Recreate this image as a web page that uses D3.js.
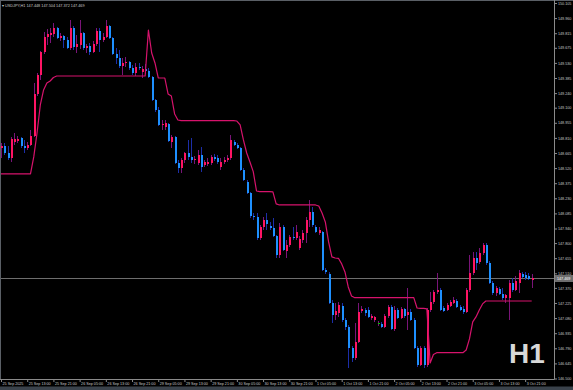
<!DOCTYPE html>
<html>
<head>
<meta charset="utf-8"/>
<title>USDJPY,H1</title>
<script src="https://d3js.org/d3.v7.min.js"></script>
<style>
    body { margin: 0; background: #000; }
    svg { display: block; }
    .axis text { font-family: "Liberation Sans", Arial, sans-serif; font-size: 3.7px; fill: #c8c8c8; }
    .axis line { stroke: #8a8a8a; }
    .header { font-family: "Liberation Sans", Arial, sans-serif; font-size: 3.8px; fill: #c8c8c8; }
    .tf { font-family: "Liberation Sans", Arial, sans-serif; font-size: 28px; font-weight: bold; fill: #d8d8d8; }
</style>
</head>
<body>
<div id="chart"></div>
<script>
// USDJPY H1, 25 Sep 05:00 .. 3 Oct 23:00 (163 bars)
var opens = [
148.713,148.732,148.665,148.617,148.771,148.780,148.809,148.732,148.713,148.742,
148.828,149.232,149.414,149.635,149.779,149.798,149.808,149.865,149.769,149.788,
149.750,149.673,149.865,149.683,149.702,149.817,149.673,149.692,149.635,149.712,
149.836,149.750,149.779,149.884,149.769,149.616,149.577,149.500,149.529,149.539,
149.481,149.433,149.491,149.443,149.472,149.452,149.395,149.174,149.078,148.934,
148.915,148.944,148.771,148.819,148.569,148.521,148.598,148.665,148.627,148.598,
148.569,148.646,148.550,148.560,148.569,148.627,148.617,148.531,148.579,148.598,
148.617,148.771,148.742,148.713,148.502,148.387,148.281,148.060,148.051,147.849,
147.955,148.022,147.964,147.945,147.868,147.686,147.955,147.724,147.782,147.859,
147.849,147.753,147.830,147.897,148.022,148.099,147.955,147.897,147.907,147.542,
147.504,147.225,147.110,147.129,147.196,147.062,146.995,146.793,146.697,146.851,
147.148,147.158,147.158,147.081,147.062,147.033,147.024,146.995,147.100,147.187,
146.976,147.158,147.081,147.168,147.110,147.139,147.062,146.793,146.630,146.793,
146.630,147.158,147.235,147.331,147.350,147.177,147.158,147.196,147.225,147.244,
147.187,147.168,147.139,147.350,147.513,147.657,147.619,147.705,147.782,147.609,
147.417,147.321,147.360,147.312,147.273,147.273,147.417,147.350,147.417,147.504,
147.494,147.484,147.448];

var highs = [
148.761,148.761,148.732,148.819,148.857,148.828,148.819,148.790,148.771,148.886,
149.337,149.433,149.644,149.827,149.856,149.865,149.913,149.875,149.817,149.798,
149.779,149.942,149.884,149.798,149.942,149.827,149.712,149.721,149.740,149.865,
149.865,149.817,149.942,149.894,149.779,149.673,149.654,149.577,149.587,149.548,
149.510,149.529,149.529,149.500,149.520,149.481,149.404,149.184,149.107,148.982,
148.982,148.953,148.838,148.828,148.598,148.617,148.675,148.790,148.809,148.636,
148.694,148.723,148.598,148.617,148.646,148.656,148.646,148.617,148.627,148.646,
148.838,148.790,148.761,148.723,148.521,148.406,148.291,148.089,148.089,147.974,
148.051,148.089,148.003,148.041,147.878,147.993,147.974,147.830,147.878,147.955,
147.974,147.868,147.926,148.051,148.214,148.147,147.974,147.955,147.916,147.561,
147.523,147.254,147.225,147.235,147.225,147.081,147.014,146.812,147.033,147.225,
147.196,147.177,147.187,147.120,147.100,147.052,147.043,147.120,147.206,147.206,
147.196,147.177,147.187,147.177,147.369,147.168,147.081,146.812,146.812,146.812,
147.177,147.331,147.350,147.513,147.369,147.196,147.225,147.254,147.283,147.264,
147.206,147.196,147.369,147.686,147.715,147.715,147.753,147.801,147.801,147.628,
147.436,147.388,147.379,147.369,147.312,147.446,147.465,147.484,147.542,147.523,
147.523,147.513,147.504];

var lows = [
148.617,148.646,148.598,148.579,148.742,148.761,148.713,148.665,148.694,148.732,
148.819,149.212,149.366,149.616,149.702,149.721,149.779,149.760,149.740,149.673,
149.664,149.654,149.654,149.625,149.664,149.654,149.625,149.606,149.625,149.692,
149.635,149.731,149.769,149.760,149.606,149.520,149.481,149.414,149.491,149.462,
149.414,149.404,149.462,149.385,149.424,149.385,149.164,149.059,148.924,148.886,
148.886,148.771,148.713,148.560,148.473,148.473,148.569,148.598,148.569,148.560,
148.550,148.483,148.531,148.540,148.550,148.588,148.560,148.502,148.560,148.579,
148.598,148.732,148.704,148.492,148.396,148.272,148.041,148.022,147.830,147.830,
147.926,147.926,147.926,147.859,147.657,147.657,147.724,147.657,147.763,147.830,
147.830,147.734,147.801,147.801,147.955,147.955,147.897,147.878,147.532,147.504,
147.216,147.033,147.062,147.091,147.043,146.966,146.601,146.659,146.678,146.841,
147.129,147.100,147.081,147.062,147.043,147.004,146.985,146.985,147.081,146.966,
146.956,147.072,147.072,147.081,146.966,147.052,146.784,146.611,146.620,146.601,
146.611,147.139,147.216,147.312,147.148,147.139,147.148,147.187,147.216,147.177,
147.148,147.120,147.129,147.331,147.494,147.542,147.600,147.686,147.590,147.408,
147.302,147.292,147.302,147.254,147.225,147.062,147.331,147.340,147.321,147.465,
147.446,147.446,147.372];

var closes = [
148.732,148.665,148.617,148.800,148.800,148.800,148.732,148.713,148.742,148.828,
149.232,149.414,149.635,149.779,149.808,149.817,149.865,149.769,149.788,149.750,
149.673,149.865,149.683,149.712,149.817,149.673,149.692,149.635,149.712,149.836,
149.750,149.779,149.884,149.769,149.616,149.577,149.500,149.529,149.539,149.481,
149.433,149.491,149.481,149.472,149.452,149.395,149.174,149.078,148.934,148.944,
148.953,148.780,148.819,148.569,148.521,148.598,148.665,148.627,148.598,148.608,
148.646,148.531,148.579,148.579,148.627,148.608,148.579,148.579,148.598,148.617,
148.790,148.742,148.713,148.502,148.406,148.281,148.060,148.051,147.849,147.955,
148.022,147.984,147.945,147.868,147.686,147.955,147.734,147.782,147.859,147.849,
147.907,147.840,147.897,148.022,148.099,147.974,147.907,147.926,147.542,147.523,
147.225,147.110,147.148,147.206,147.062,146.995,146.793,146.697,146.851,147.139,
147.168,147.129,147.091,147.100,147.091,147.033,146.995,147.100,147.187,146.976,
147.158,147.081,147.168,147.100,147.139,147.062,146.793,146.630,146.793,146.630,
147.158,147.235,147.331,147.350,147.158,147.148,147.206,147.235,147.254,147.187,
147.158,147.139,147.350,147.513,147.657,147.609,147.705,147.782,147.609,147.417,
147.321,147.369,147.312,147.273,147.302,147.417,147.350,147.436,147.513,147.475,
147.465,147.456,147.469];

// trailing stop indicator line, one value per bar
var stopLine = [
148.464,148.464,148.464,148.464,148.464,148.464,148.464,148.464,148.464,148.464,
148.627,148.857,149.126,149.270,149.337,149.356,149.390,149.404,149.404,149.404,
149.404,149.404,149.404,149.404,149.404,149.404,149.404,149.404,149.404,149.404,
149.404,149.404,149.404,149.404,149.404,149.404,149.404,149.404,149.404,149.404,
149.404,149.404,149.404,149.404,149.404,149.846,149.625,149.529,149.385,149.385,
149.385,149.232,149.212,149.040,148.982,148.975,148.975,148.975,148.975,148.975,
148.975,148.975,148.975,148.975,148.975,148.975,148.975,148.975,148.975,148.975,
148.975,148.975,148.972,148.934,148.790,148.665,148.579,148.486,148.300,148.294,
148.294,148.294,148.294,148.291,148.176,148.166,148.166,148.166,148.166,148.166,
148.166,148.166,148.166,148.166,148.166,148.166,148.166,148.156,148.089,148.003,
147.811,147.667,147.657,147.654,147.600,147.523,147.379,147.292,147.276,147.276,
147.276,147.276,147.276,147.276,147.276,147.276,147.276,147.276,147.276,147.276,
147.276,147.276,147.276,147.276,147.276,147.276,147.276,147.177,147.174,147.174,
147.168,146.649,146.731,146.748,146.748,146.748,146.748,146.748,146.748,146.748,
146.748,146.748,146.774,146.880,147.043,147.091,147.158,147.216,147.244,147.244,
147.244,147.244,147.244,147.244,147.244,147.244,147.244,147.244,147.244,147.244,
147.244,147.244,147.244];

var timeLabels = ["25 Sep 2025","25 Sep 13:00","25 Sep 21:00","26 Sep 05:00","26 Sep 13:00",
    "26 Sep 21:00","29 Sep 05:00","29 Sep 13:00","29 Sep 21:00","30 Sep 05:00","30 Sep 13:00",
    "30 Sep 21:00","1 Oct 05:00","1 Oct 13:00","1 Oct 21:00","2 Oct 05:00","2 Oct 13:00",
    "2 Oct 21:00","3 Oct 05:00","3 Oct 13:00","3 Oct 21:00"];
var timeLabelBars = [0,8,16,24,32,40,48,56,64,72,80,88,96,104,112,120,128,136,144,152,160];

var priceTicks = [150.105,149.960,149.815,149.675,149.530,149.385,149.240,149.100,148.955,
    148.810,148.665,148.520,148.375,148.230,148.085,147.940,147.800,147.655,147.510,147.370,
    147.225,147.080,146.935,146.790,146.645,146.500];

var symbol = "USDJPY,H1";
var timeframe = "H1";

var width = 573, height = 390,
    plotRight = 554.5, plotBottom = 379.5;

var upBody = "#ff1464", downBody = "#1e90ff",
    upWick = "#7a1478", downWick = "#1c2ea8",
    dojiColor = "#00c800", stopColor = "#d6136c";

var svg = d3.select("#chart").append("svg")
    .attr("width", width)
    .attr("height", height);

svg.append("rect")
    .attr("width", width)
    .attr("height", height)
    .attr("fill", "#000");

var x = d3.scaleLinear()
    .domain([0, opens.length - 1])
    .range([1, 531.7]);

var y = d3.scaleLinear()
    .domain([146.500, 150.105])
    .range([378.5, 3]);

var bars = opens.map(function(o, i) {
    return {i: i, o: o, h: highs[i], l: lows[i], c: closes[i], s: stopLine[i]};
});
var last = bars[bars.length - 1];

// window border + bottom strip
svg.append("line").attr("x1", 0).attr("x2", width).attr("y1", 0.5).attr("y2", 0.5)
    .attr("stroke", "#5a5f66");
svg.append("line").attr("x1", 0.5).attr("x2", 0.5).attr("y1", 0).attr("y2", plotBottom)
    .attr("stroke", "#5a5f66");
svg.append("rect").attr("x", 0).attr("y", 386.5).attr("width", width).attr("height", 4)
    .attr("fill", "#3a424b");

// current price line
svg.append("line")
    .attr("x1", 1).attr("x2", plotRight)
    .attr("y1", Math.round(y(last.c)) + 0.5).attr("y2", Math.round(y(last.c)) + 0.5)
    .attr("stroke", "#6e6e6e")
    .attr("stroke-width", 1);

var candles = svg.append("g").attr("shape-rendering", "crispEdges");

candles.selectAll(".wick")
    .data(bars)
    .enter()
    .append("line")
    .attr("class", "wick")
    .attr("x1", function(d){ return Math.round(x(d.i)) + 0.5; })
    .attr("x2", function(d){ return Math.round(x(d.i)) + 0.5; })
    .attr("y1", function(d){ return y(d.h); })
    .attr("y2", function(d){ return y(d.l); })
    .attr("stroke", function(d){ return d.c >= d.o ? upWick : downWick; });

candles.selectAll(".body")
    .data(bars)
    .enter()
    .append("rect")
    .attr("class", "body")
    .attr("x", function(d){ return Math.round(x(d.i)) - 0.5; })
    .attr("width", 2)
    .attr("y", function(d){ return y(Math.max(d.o, d.c)); })
    .attr("height", function(d){ return Math.max(1, Math.abs(y(d.o) - y(d.c))); })
    .attr("fill", function(d){
        if (d.o === d.c) { return dojiColor; }
        return d.c > d.o ? upBody : downBody;
    });

// indicator line
var line = d3.line()
    .x(function(d){ return x(d.i); })
    .y(function(d){ return y(d.s); });

svg.append("path")
    .datum(bars)
    .attr("d", line)
    .attr("fill", "none")
    .attr("stroke", stopColor)
    .attr("stroke-width", 1.2)
    .attr("stroke-linejoin", "round");

// price scale
svg.append("line").attr("x1", plotRight).attr("x2", plotRight).attr("y1", 0).attr("y2", plotBottom)
    .attr("stroke", "#8a8a8a");

var yAxis = d3.axisRight(y)
    .tickValues(priceTicks)
    .tickFormat(d3.format(".3f"))
    .tickSize(2.5)
    .tickPadding(1);

var yg = svg.append("g")
    .attr("class", "axis")
    .attr("transform", "translate(" + plotRight + ",0)")
    .call(yAxis);
yg.select(".domain").remove();

// time scale
svg.append("line").attr("x1", 0).attr("x2", plotRight).attr("y1", plotBottom).attr("y2", plotBottom)
    .attr("stroke", "#8a8a8a");

var xAxis = d3.axisBottom(x)
    .tickValues(timeLabelBars)
    .tickFormat(function(d, i){ return timeLabels[i]; })
    .tickSize(2.5)
    .tickPadding(0.8);

var xg = svg.append("g")
    .attr("class", "axis")
    .attr("transform", "translate(0," + plotBottom + ")")
    .call(xAxis);
xg.select(".domain").remove();
xg.selectAll("text")
    .attr("text-anchor", "start")
    .attr("x", 1);

// last price label on the scale
var ly = Math.round(y(last.c)) + 0.5;
svg.append("rect")
    .attr("x", plotRight + 0.5).attr("y", ly - 3.5)
    .attr("width", 18).attr("height", 7)
    .attr("fill", "#6e6e6e");
svg.append("text")
    .attr("class", "header")
    .attr("x", 557).attr("y", ly)
    .attr("dy", "0.35em")
    .style("font-size", "3.7px")
    .style("fill", "#ffffff")
    .text(d3.format(".3f")(last.c));

// header line
svg.append("text")
    .attr("class", "header")
    .attr("x", 2).attr("y", 6.5)
    .text("\u25BE " + symbol + "  " + [last.o, last.h, last.l, last.c].map(d3.format(".3f")).join(" "));

// big timeframe label
svg.append("text")
    .attr("class", "tf")
    .attr("x", 509).attr("y", 363)
    .text(timeframe);
</script>
</body>
</html>
